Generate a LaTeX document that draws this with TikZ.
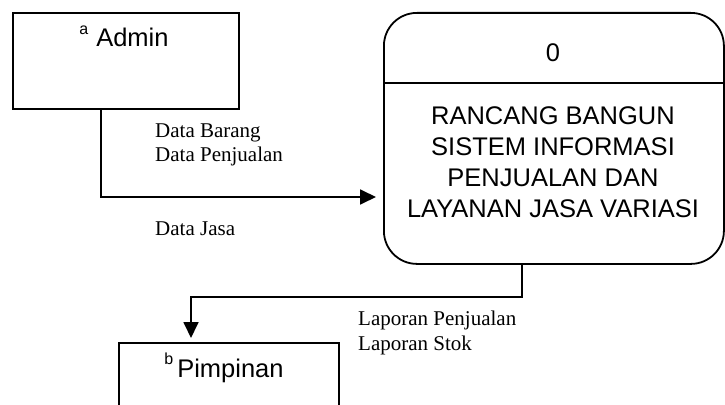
\documentclass[tikz,border=0pt]{standalone}
\usepackage{fontspec}
\setmainfont{Liberation Serif}
\newfontfamily\arialf{Liberation Sans}
\usetikzlibrary{arrows.meta}
\tikzset{
  ebox/.style={draw, line width=1.8pt, rectangle, inner sep=0pt, anchor=north west},
  procbox/.style={draw, line width=1.8pt, rectangle, rounded corners=33pt, inner sep=0pt, anchor=north west},
  flow/.style={line width=1.8pt, -{Triangle[length=16pt,width=15pt]}},
  bigtxt/.style={font=\arialf\fontsize{25.5}{31}\selectfont, inner sep=0pt},
  flowtxt/.style={font=\fontsize{21}{24}\selectfont, inner sep=0pt, anchor=base west},
}
\newcommand{\entletter}[1]{\raisebox{13pt}{\fontsize{16}{16}\selectfont #1}}
\begin{document}
\begin{tikzpicture}[x=1pt, y=-1pt]
  \clip (0,0) rectangle (725,404);
  \fill[white] (0,0) rectangle (725,404);

  % external entities and the process
  \node[ebox, minimum width=226pt, minimum height=96pt] (admin) at (12,12) {};
  \node[procbox, minimum width=340pt, minimum height=251pt] (proc) at (383,12) {};
  \node[ebox, minimum width=220pt, minimum height=110pt] (pimpinan) at (118,342) {};

  % entity names with their letters
  \node[bigtxt, anchor=base] (admintxt) at (124,47)
    {\entletter{a}\hspace{8pt}Admin};
  \node[bigtxt, anchor=base] (pimptxt) at (224,377)
    {\entletter{b}\hspace{4pt}Pimpinan};

  % process number, divider and title
  \coordinate (ydiv) at (0,83);
  \draw[line width=1.5pt] (proc.west |- ydiv) -- (proc.east |- ydiv);
  \node[bigtxt] (procnum) at (553,53) {0};
  \node[bigtxt, align=center] (proctitle) at (553,162)
    {RANCANG BANGUN\\SISTEM INFORMASI\\PENJUALAN DAN\\LAYANAN JASA VARIASI};

  % data flows
  \coordinate (xa) at (101,0);
  \coordinate (ya) at (0,197);
  \draw[flow, shorten >=7pt] (admin.south -| xa) |- (proc.west |- ya);

  \coordinate (k1) at (522,297);
  \coordinate (xc) at (191,0);
  \draw[flow, shorten >=4pt] (proc.south -| k1) -- (k1) -| (pimpinan.north -| xc);

  % flow labels
  \node[flowtxt] (l1) at (155,137) {Data Barang};
  \node[flowtxt] (l2) at (155,161) {Data Penjualan};
  \node[flowtxt] (l3) at (155,235) {Data Jasa};
  \node[flowtxt] (l4) at (358,325) {Laporan Penjualan};
  \node[flowtxt] (l5) at (358,350) {Laporan Stok};
\end{tikzpicture}
\end{document}
